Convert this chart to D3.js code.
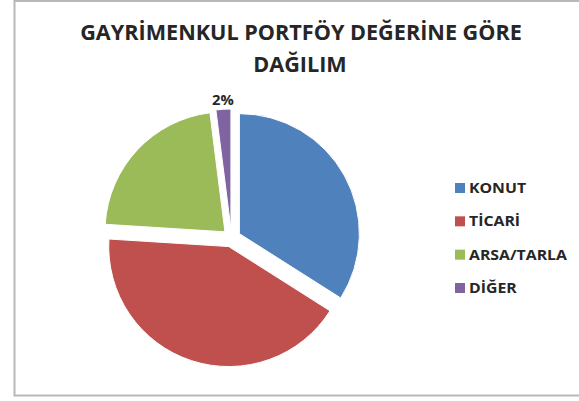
<!DOCTYPE html>
<html>
<head>
<meta charset="utf-8">
<script src="https://cdn.jsdelivr.net/npm/d3@7"></script>
<style>
  body { margin: 0; background: #fff; }
  svg { display: block; }
  text { font-family: "Open Sans", "DejaVu Sans", sans-serif; font-weight: bold; fill: #262626; }
</style>
</head>
<body>
<div id="chart"></div>
<script>
const categories = ['KONUT', 'TİCARİ', 'ARSA/TARLA', 'DİĞER']
const values = [34, 42, 22, 2]
const colors = ['#4F81BD', '#C0504D', '#9BBB59', '#8064A2']
const shownLabels = ['', '', '', '2%']
const titleLines = ['GAYRİMENKUL PORTFÖY DEĞERİNE GÖRE', 'DAĞILIM']

const width = 579, height = 401
const cx = 231.5, cy = 238, radius = 120, explode = 9

const svg = d3.select('#chart').append('svg')
  .attr('width', width)
  .attr('height', height)

// chart frame (right side runs off the picture)
svg.append('rect')
  .attr('x', 14.5).attr('y', 1)
  .attr('width', 600).attr('height', 394.5)
  .attr('fill', 'none')
  .attr('stroke', '#b8b8b8')
  .attr('stroke-width', 2)

// squeeze a text horizontally so it takes a wanted width (Calibri is narrow)
function squeeze(sel, target) {
  return target / sel.node().getComputedTextLength()
}

const t1 = svg.append('text')
  .attr('text-anchor', 'middle')
  .attr('font-size', 20.5)
  .text(titleLines[0])
const sx = squeeze(t1, 442)
t1.attr('transform', `translate(301, 40) scale(${sx}, 1)`)
svg.append('text')
  .attr('text-anchor', 'middle')
  .attr('font-size', 20.5)
  .attr('transform', `translate(300, 72) scale(${sx}, 1)`)
  .text(titleLines[1])

const pie = d3.pie().sort(null).value(d => d)
const arcs = pie(values)
const arc = d3.arc().innerRadius(0).outerRadius(radius)
const labelArc = d3.arc().innerRadius(radius + 18).outerRadius(radius + 18)

const g = svg.append('g')
  .attr('transform', `translate(${cx}, ${cy})`)

g.selectAll('path')
  .data(arcs)
  .enter().append('path')
  .attr('transform', d => {
    const a = (d.startAngle + d.endAngle) / 2
    return `translate(${Math.sin(a) * explode}, ${-Math.cos(a) * explode})`
  })
  .attr('d', arc)
  .attr('fill', (d, i) => colors[i])
  .attr('stroke', '#fff')
  .attr('stroke-width', 1)

g.selectAll('text.lbl')
  .data(arcs)
  .enter().append('text')
  .attr('class', 'lbl')
  .attr('transform', d => `translate(${labelArc.centroid(d)}) scale(${sx}, 1)`)
  .attr('text-anchor', 'middle')
  .attr('dy', '0.35em')
  .attr('font-size', 14)
  .text((d, i) => shownLabels[i])

// legend
const legendY = d3.scalePoint()
  .domain(categories)
  .range([188, 288])

const items = svg.append('g').selectAll('g')
  .data(categories)
  .enter().append('g')
  .attr('transform', d => `translate(455, ${legendY(d)})`)
items.append('rect')
  .attr('x', 0).attr('y', -5)
  .attr('width', 10).attr('height', 10)
  .attr('fill', (d, i) => colors[i])
const legendTexts = items.append('text')
  .attr('dy', '0.36em')
  .attr('font-size', 14)
  .text(d => d)
const lsx = squeeze(legendTexts.filter(d => d === 'ARSA/TARLA'), 98)
legendTexts.attr('transform', `translate(14, 0) scale(${lsx}, 1)`)
</script>
</body>
</html>
